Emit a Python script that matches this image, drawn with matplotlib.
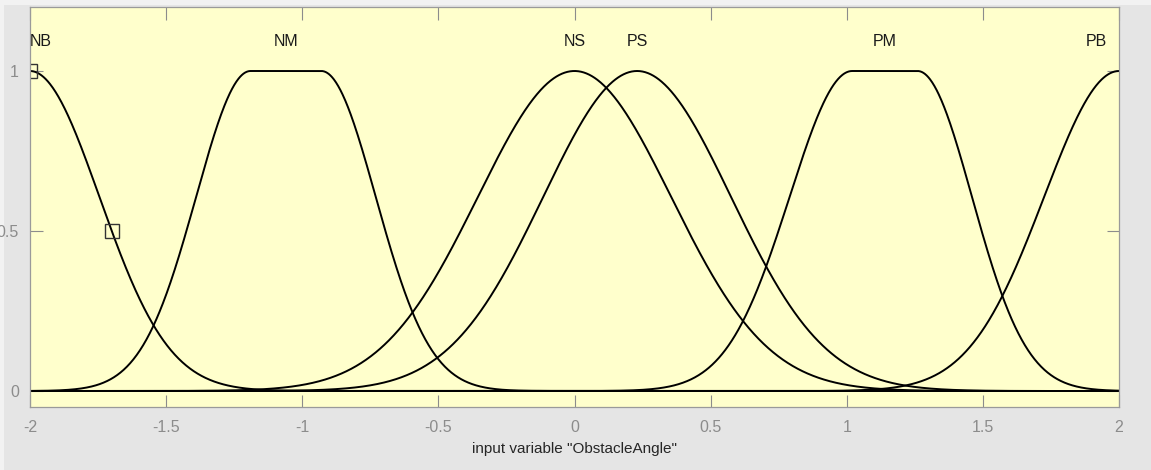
import numpy as np
import matplotlib
matplotlib.use("Agg")
import matplotlib.pyplot as plt
from matplotlib.patches import Rectangle

# Membership functions (gauss2mf parameters)
mf_names = ["NB", "NM", "NS", "PS", "PM", "PB"]
left_sigma = [0.255, 0.20, 0.355, 0.345, 0.23, 0.275]
left_center = [-2.0, -1.19, 0.0, 0.23, 1.02, 2.0]
right_sigma = [0.255, 0.20, 0.355, 0.345, 0.20, 0.275]
right_center = [-2.0, -0.93, 0.0, 0.23, 1.26, 2.0]
label_x = [-2.0, -1.06, 0.0, 0.23, 1.14, 1.956]
label_align = ["left", "center", "center", "center", "center", "right"]

# selected-MF handle markers
handle_x = [-2.0, -1.7]
handle_y = [1.0, 0.5]

x_ticks = [-2, -1.5, -1, -0.5, 0, 0.5, 1, 1.5, 2]
x_ticklabels = ["-2", "-1.5", "-1", "-0.5", "0", "0.5", "1", "1.5", "2"]
y_ticks = [0, 0.5, 1]
y_ticklabels = ["0", "0.5", "1"]
x_label = 'input variable "ObstacleAngle"'


def gauss2mf(x, s1, c1, s2, c2):
    y = np.ones_like(x)
    lm = x < c1
    y[lm] = np.exp(-(x[lm] - c1) ** 2 / (2 * s1 ** 2))
    rm = x > c2
    y[rm] = np.exp(-(x[rm] - c2) ** 2 / (2 * s2 ** 2))
    return y


plt.rcParams["font.family"] = ["Liberation Sans", "DejaVu Sans"]

fig = plt.figure(figsize=(11.51, 4.70), dpi=100, facecolor="#F2F2F2")
fig.patches.append(Rectangle((4 / 1151, 0), 1 - 4 / 1151, 1 - 5 / 470,
                             transform=fig.transFigure, facecolor="#E5E5E5",
                             edgecolor="none", zorder=-10))
ax = fig.add_axes([30 / 1151, 63 / 470, 1089 / 1151, 400 / 470])
ax.set_facecolor("#FFFFCC")

xs = np.linspace(-2, 2, 2001)
for name, s1, c1, s2, c2, lx, ha in zip(mf_names, left_sigma, left_center,
                                         right_sigma, right_center, label_x,
                                         label_align):
    ax.plot(xs, gauss2mf(xs, s1, c1, s2, c2), color="black", lw=1.4)
    ax.text(lx, 1.093, name, ha=ha, va="center", fontsize=11.5,
            color="#1a1a1a")

ax.plot(handle_x, handle_y, linestyle="none", marker="s", markersize=9.5,
        markerfacecolor="none", markeredgecolor="#333333", markeredgewidth=1.0,
        clip_on=True)

ax.set_xlim(-2, 2)
ax.set_ylim(-0.05, 1.2)
ax.set_xticks(x_ticks)
ax.set_xticklabels(x_ticklabels)
ax.set_yticks(y_ticks)
ax.set_yticklabels(y_ticklabels)
ax.tick_params(direction="in", length=9, width=0.8, color="#8c8c8c",
               labelcolor="#8c8c8c", labelsize=11.5, top=True, right=True)
ax.tick_params(axis="x", pad=9.5)
ax.tick_params(axis="y", pad=8)
for sp in ax.spines.values():
    sp.set_color("#9a9a9a")
    sp.set_linewidth(0.9)
ax.set_xlabel(x_label, fontsize=11, color="#262626", labelpad=5)

fig.savefig("out.png", dpi=100, facecolor=fig.get_facecolor())
